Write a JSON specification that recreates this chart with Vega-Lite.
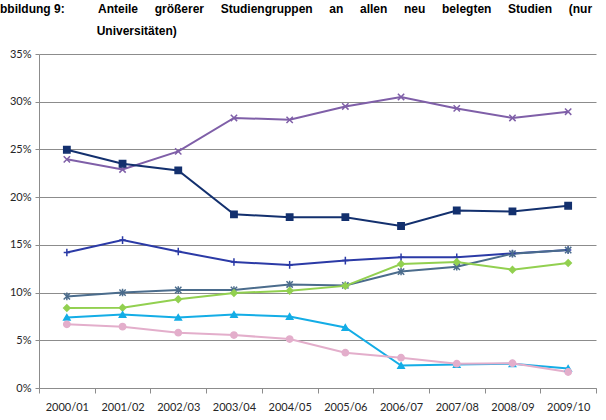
{
  "$schema": "https://vega.github.io/schema/vega-lite/v6.json",
  "width": 557,
  "height": 334,
  "autosize": {"type": "none"},
  "padding": {"left": 39, "top": 54, "right": 10, "bottom": 32},
  "background": "white",
  "config": {"view": {"stroke": null}},
  "title": {
    "text": [
      "bbildung 9:\u00a0\u00a0\u00a0\u00a0\u00a0\u00a0\u00a0\u00a0\u00a0\u00a0Anteile\u00a0\u00a0\u00a0\u00a0\u00a0größerer\u00a0\u00a0\u00a0\u00a0\u00a0Studiengruppen\u00a0\u00a0\u00a0\u00a0\u00a0an\u00a0\u00a0\u00a0\u00a0\u00a0allen\u00a0\u00a0\u00a0\u00a0\u00a0neu\u00a0\u00a0\u00a0\u00a0\u00a0belegten\u00a0\u00a0\u00a0\u00a0\u00a0Studien\u00a0\u00a0\u00a0\u00a0\u00a0(nur",
      "\u200b\u00a0\u00a0\u00a0\u00a0\u00a0\u00a0\u00a0\u00a0\u00a0\u00a0\u00a0\u00a0\u00a0\u00a0\u00a0\u00a0\u00a0\u00a0\u00a0\u00a0\u00a0\u00a0\u00a0\u00a0\u00a0\u00a0\u00a0\u00a0\u00a0Universitäten)"
    ],
    "anchor": "start",
    "frame": "group",
    "dx": -39,
    "offset": 10,
    "font": "Liberation Sans",
    "fontSize": 12,
    "fontWeight": "bold",
    "color": "#000000",
    "lineHeight": 22
  },
  "data": {
    "values": [
      {"year": "2000/01", "series": "Reihe 1", "value": 0.2396},
      {"year": "2001/02", "series": "Reihe 1", "value": 0.229},
      {"year": "2002/03", "series": "Reihe 1", "value": 0.248},
      {"year": "2003/04", "series": "Reihe 1", "value": 0.283},
      {"year": "2004/05", "series": "Reihe 1", "value": 0.281},
      {"year": "2005/06", "series": "Reihe 1", "value": 0.295},
      {"year": "2006/07", "series": "Reihe 1", "value": 0.305},
      {"year": "2007/08", "series": "Reihe 1", "value": 0.293},
      {"year": "2008/09", "series": "Reihe 1", "value": 0.283},
      {"year": "2009/10", "series": "Reihe 1", "value": 0.2895},
      {"year": "2000/01", "series": "Reihe 2", "value": 0.2497},
      {"year": "2001/02", "series": "Reihe 2", "value": 0.235},
      {"year": "2002/03", "series": "Reihe 2", "value": 0.228},
      {"year": "2003/04", "series": "Reihe 2", "value": 0.182},
      {"year": "2004/05", "series": "Reihe 2", "value": 0.179},
      {"year": "2005/06", "series": "Reihe 2", "value": 0.179},
      {"year": "2006/07", "series": "Reihe 2", "value": 0.1698},
      {"year": "2007/08", "series": "Reihe 2", "value": 0.186},
      {"year": "2008/09", "series": "Reihe 2", "value": 0.185},
      {"year": "2009/10", "series": "Reihe 2", "value": 0.191},
      {"year": "2000/01", "series": "Reihe 3", "value": 0.142},
      {"year": "2001/02", "series": "Reihe 3", "value": 0.155},
      {"year": "2002/03", "series": "Reihe 3", "value": 0.143},
      {"year": "2003/04", "series": "Reihe 3", "value": 0.132},
      {"year": "2004/05", "series": "Reihe 3", "value": 0.129},
      {"year": "2005/06", "series": "Reihe 3", "value": 0.1335},
      {"year": "2006/07", "series": "Reihe 3", "value": 0.137},
      {"year": "2007/08", "series": "Reihe 3", "value": 0.137},
      {"year": "2008/09", "series": "Reihe 3", "value": 0.141},
      {"year": "2009/10", "series": "Reihe 3", "value": 0.1446},
      {"year": "2000/01", "series": "Reihe 4", "value": 0.096},
      {"year": "2001/02", "series": "Reihe 4", "value": 0.1},
      {"year": "2002/03", "series": "Reihe 4", "value": 0.1027},
      {"year": "2003/04", "series": "Reihe 4", "value": 0.1027},
      {"year": "2004/05", "series": "Reihe 4", "value": 0.1085},
      {"year": "2005/06", "series": "Reihe 4", "value": 0.1075},
      {"year": "2006/07", "series": "Reihe 4", "value": 0.122},
      {"year": "2007/08", "series": "Reihe 4", "value": 0.127},
      {"year": "2008/09", "series": "Reihe 4", "value": 0.1407},
      {"year": "2009/10", "series": "Reihe 4", "value": 0.1446},
      {"year": "2000/01", "series": "Reihe 5", "value": 0.0838},
      {"year": "2001/02", "series": "Reihe 5", "value": 0.084},
      {"year": "2002/03", "series": "Reihe 5", "value": 0.093},
      {"year": "2003/04", "series": "Reihe 5", "value": 0.0995},
      {"year": "2004/05", "series": "Reihe 5", "value": 0.102},
      {"year": "2005/06", "series": "Reihe 5", "value": 0.107},
      {"year": "2006/07", "series": "Reihe 5", "value": 0.1299},
      {"year": "2007/08", "series": "Reihe 5", "value": 0.132},
      {"year": "2008/09", "series": "Reihe 5", "value": 0.124},
      {"year": "2009/10", "series": "Reihe 5", "value": 0.131},
      {"year": "2000/01", "series": "Reihe 6", "value": 0.074},
      {"year": "2001/02", "series": "Reihe 6", "value": 0.077},
      {"year": "2002/03", "series": "Reihe 6", "value": 0.074},
      {"year": "2003/04", "series": "Reihe 6", "value": 0.077},
      {"year": "2004/05", "series": "Reihe 6", "value": 0.075},
      {"year": "2005/06", "series": "Reihe 6", "value": 0.0635},
      {"year": "2006/07", "series": "Reihe 6", "value": 0.0235},
      {"year": "2007/08", "series": "Reihe 6", "value": 0.0245},
      {"year": "2008/09", "series": "Reihe 6", "value": 0.0255},
      {"year": "2009/10", "series": "Reihe 6", "value": 0.0205},
      {"year": "2000/01", "series": "Reihe 7", "value": 0.0667},
      {"year": "2001/02", "series": "Reihe 7", "value": 0.0643},
      {"year": "2002/03", "series": "Reihe 7", "value": 0.058},
      {"year": "2003/04", "series": "Reihe 7", "value": 0.0555},
      {"year": "2004/05", "series": "Reihe 7", "value": 0.0513},
      {"year": "2005/06", "series": "Reihe 7", "value": 0.037},
      {"year": "2006/07", "series": "Reihe 7", "value": 0.0318},
      {"year": "2007/08", "series": "Reihe 7", "value": 0.0255},
      {"year": "2008/09", "series": "Reihe 7", "value": 0.026},
      {"year": "2009/10", "series": "Reihe 7", "value": 0.0168}
    ]
  },
  "encoding": {
    "x": {
      "field": "year",
      "type": "ordinal",
      "bandPosition": 0.5,
      "scale": {"type": "band", "paddingInner": 0, "paddingOuter": 0},
      "axis": {
        "title": null,
        "labelAngle": 0,
        "tickBand": "extent",
        "grid": false,
        "domainColor": "#8c8c8c",
        "tickColor": "#8c8c8c",
        "tickSize": 5,
        "labelPadding": 8,
        "labelFont": "Lato",
        "labelFontSize": 11,
        "labelColor": "#262626"
      }
    },
    "y": {
      "field": "value",
      "type": "quantitative",
      "scale": {"domain": [0, 0.35], "nice": false},
      "axis": {
        "title": null,
        "format": ".0%",
        "values": [0, 0.05, 0.1, 0.15, 0.2, 0.25, 0.3, 0.35],
        "grid": true,
        "gridColor": "#8c8c8c",
        "domainColor": "#8c8c8c",
        "tickColor": "#8c8c8c",
        "tickSize": 4,
        "labelPadding": 4,
        "labelFont": "Lato",
        "labelFontSize": 11,
        "labelColor": "#262626"
      }
    },
    "color": {
      "field": "series",
      "type": "nominal",
      "scale": {
        "domain": ["Reihe 1", "Reihe 2", "Reihe 3", "Reihe 4", "Reihe 5", "Reihe 6", "Reihe 7"],
        "range": ["#7F5FA8", "#13306E", "#2B3AA6", "#4B6C8C", "#92D050", "#14ADE6", "#E3AECB"]
      },
      "legend": null
    }
  },
  "layer": [
    {"mark": {"type": "line", "strokeWidth": 2}},
    {
      "mark": {"type": "point", "filled": true, "opacity": 1, "strokeWidth": 1.5, "size": 40},
      "encoding": {
        "stroke": {
          "field": "series",
          "type": "nominal",
          "scale": {
            "domain": ["Reihe 1", "Reihe 2", "Reihe 3", "Reihe 4", "Reihe 5", "Reihe 6", "Reihe 7"],
            "range": ["#7F5FA8", "#13306E", "#2B3AA6", "#4B6C8C", "#92D050", "#14ADE6", "#E3AECB"]
          },
          "legend": null
        },
        "shape": {
          "field": "series",
          "type": "nominal",
          "scale": {
            "domain": ["Reihe 1", "Reihe 2", "Reihe 3", "Reihe 4", "Reihe 5", "Reihe 6", "Reihe 7"],
            "range": [
              "M-1,-1L1,1M-1,1L1,-1",
              "square",
              "M-1,0L1,0M0,-1.2L0,1.2",
              "M-1,-1L1,1M-1,1L1,-1M0,-1.2L0,1.2",
              "diamond",
              "triangle-up",
              "circle"
            ]
          },
          "legend": null
        }
      }
    }
  ]
}
